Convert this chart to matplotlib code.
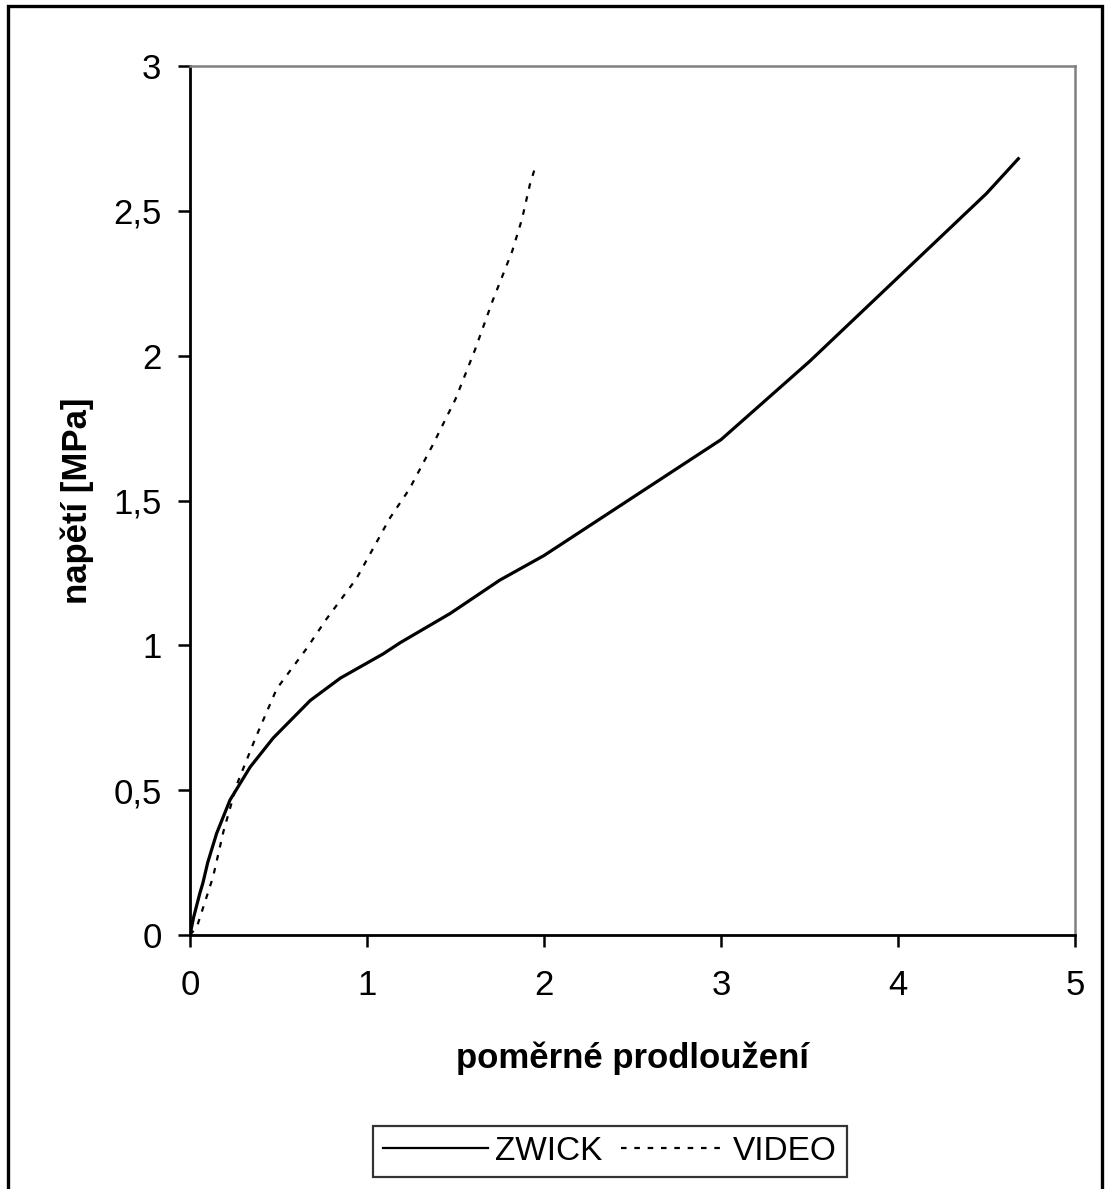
import matplotlib
matplotlib.use("Agg")
import matplotlib.pyplot as plt
from matplotlib.patches import Rectangle
from matplotlib.ticker import FuncFormatter

plt.rcParams["font.family"] = ["Liberation Sans", "DejaVu Sans"]

# ── data ─────────────────────────────────────────────────────────────────────
zwick_x = [0, 0.02, 0.056, 0.073, 0.1, 0.15, 0.226, 0.34, 0.47, 0.68, 0.85,
           1.09, 1.19, 1.47, 1.75, 2.0, 2.5, 3.0, 3.5, 4.0, 4.5, 4.68]
zwick_y = [0, 0.06, 0.145, 0.18, 0.25, 0.35, 0.466, 0.58, 0.68, 0.81, 0.887,
           0.97, 1.01, 1.11, 1.225, 1.31, 1.51, 1.71, 1.98, 2.27, 2.56, 2.68]

video_x = [0, 0.04, 0.13, 0.19, 0.265, 0.37, 0.49, 0.66, 0.77, 0.94, 1.13,
           1.24, 1.37, 1.5, 1.61, 1.71, 1.82, 1.875, 1.92, 1.95]
video_y = [0, 0.03, 0.2, 0.36, 0.52, 0.68, 0.85, 0.99, 1.09, 1.23, 1.44,
           1.54, 1.69, 1.85, 2.02, 2.19, 2.36, 2.47, 2.59, 2.65]

x_ticks = [0, 1, 2, 3, 4, 5]
y_ticks = [0, 0.5, 1, 1.5, 2, 2.5, 3]

W, H = 1110, 1189
fig = plt.figure(figsize=(W / 100, H / 100), dpi=100)
ax = fig.add_axes([190 / W, (H - 935) / H, (1075 - 190) / W, (935 - 66) / H])

ax.plot(zwick_x, zwick_y, color="black", lw=2.3, label="ZWICK")
ax.plot(video_x, video_y, color="black", lw=1.6, linestyle=(0, (2.5, 3.5)),
        label="VIDEO")

ax.set_xlim(0, 5)
ax.set_ylim(0, 3)
ax.set_xticks(x_ticks)
ax.set_yticks(y_ticks)
comma = FuncFormatter(lambda v, p: f"{v:g}".replace(".", ","))
ax.xaxis.set_major_formatter(comma)
ax.yaxis.set_major_formatter(comma)
ax.tick_params(direction="out", length=8.5, width=1.8, labelsize=25,
               color="black")
ax.tick_params(axis="x", pad=16)
ax.tick_params(axis="y", pad=12)

for s in ["left", "bottom"]:
    ax.spines[s].set_color("black")
    ax.spines[s].set_linewidth(2.0)
for s in ["top", "right"]:
    ax.spines[s].set_color("#808080")
    ax.spines[s].set_linewidth(1.8)

ax.set_xlabel("poměrné prodloužení", fontsize=25, fontweight="bold")
ax.set_ylabel("napětí [MPa]", fontsize=25, fontweight="bold")
ax.xaxis.label.set_va("center")
ax.yaxis.label.set_va("center")
ax.xaxis.set_label_coords(0.5, (935 - 1058) / 869)
ax.yaxis.set_label_coords((77 - 190) / 885, 0.5)

# outer chart frame (bottom edge runs off the image)
fig.patches.append(Rectangle((8 / W, -0.05), (1102 - 8) / W,
                             (H - 6) / H + 0.05, transform=fig.transFigure,
                             fill=False, edgecolor="black", lw=2.4))

leg = fig.legend(loc="center", bbox_to_anchor=(610 / W, (H - 1151.5) / H),
                 ncol=2, fontsize=24, frameon=True, fancybox=False,
                 handlelength=3.15, handletextpad=0.22, columnspacing=0.55,
                 borderpad=0.3, borderaxespad=0)
leg.get_frame().set_edgecolor("black")
leg.get_frame().set_linewidth(1.6)
for ln in leg.get_lines():
    ln.set_linewidth(1.6)

fig.savefig("out.png", dpi=100)
